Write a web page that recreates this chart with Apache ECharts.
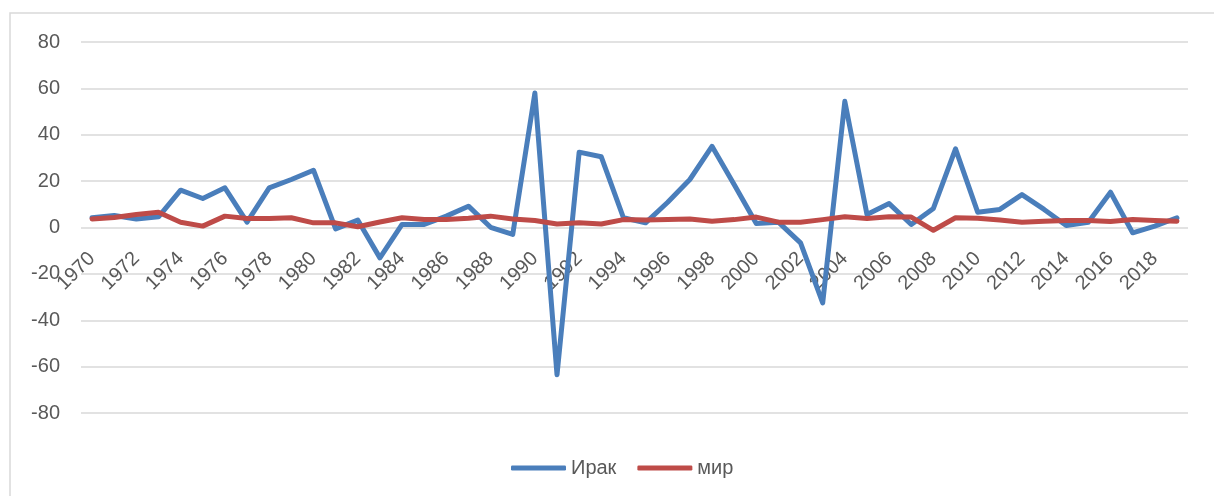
<!DOCTYPE html>
<html>
<head>
<meta charset="utf-8">
<script src="https://cdn.jsdelivr.net/npm/echarts@6/dist/echarts.min.js"></script>
<style>
  html, body { margin: 0; padding: 0; background: #fff; }
  #chart { width: 1214px; height: 496px; }
</style>
</head>
<body>
<div id="chart"></div>
<script>
const years = [];
for (let y = 1970; y <= 2019; y++) years.push(String(y));

// Ирак
const iraq = [4.2, 5.2, 3.7, 4.6, 16.1, 12.5, 17.1, 2.3, 17.1, 20.7,
  24.7, -0.6, 3.2, -13.1, 1.3, 1.3, 4.9, 9.2, 0.1, -3.0,
  58.0, -63.5, 32.5, 30.5, 4.2, 2.0, 10.9, 20.7, 35.0, 18.5,
  1.7, 2.3, -6.6, -32.5, 54.4, 5.6, 10.3, 1.3, 8.2, 33.9,
  6.6, 7.8, 14.2, 7.8, 0.9, 2.3, 15.2, -2.3, 0.6, 4.2];

// мир
const world = [3.7, 4.3, 5.6, 6.6, 2.3, 0.6, 4.9, 3.9, 3.9, 4.2,
  2.0, 2.0, 0.3, 2.4, 4.2, 3.4, 3.4, 4.0, 4.9, 3.7,
  3.0, 1.5, 2.0, 1.5, 3.4, 3.2, 3.4, 3.7, 2.7, 3.4,
  4.5, 2.3, 2.3, 3.4, 4.6, 3.9, 4.6, 4.5, -1.2, 4.2,
  4.0, 3.2, 2.3, 2.7, 3.0, 3.0, 2.6, 3.4, 3.0, 2.7];

const font = '"Liberation Sans", Arial, sans-serif';

const chart = echarts.init(document.getElementById("chart"));
chart.setOption({
  animation: false,
  graphic: [
    {
      type: "rect",
      shape: { x: 10, y: 13, width: 1230, height: 520 },
      style: { fill: "none", stroke: "#d9d9d9", lineWidth: 1.5 },
      silent: true
    }
  ],
  grid: { left: 81, right: 26, top: 42, bottom: 83 },
  legend: {
    top: 453,
    left: 506,
    itemWidth: 55,
    itemHeight: 5,
    itemGap: 21,
    icon: "roundRect",
    textStyle: { color: "#595959", fontSize: 20, fontFamily: font },
    data: ["Ирак", "мир"]
  },
  xAxis: {
    type: "category",
    data: years,
    boundaryGap: true,
    // labels sit on the zero line, like the source chart
    offset: -185.5,
    axisLine: { show: false, onZero: false },
    axisTick: { show: false },
    axisLabel: {
      interval: 1,
      rotate: 45,
      margin: 28,
      color: "#595959",
      fontSize: 20,
      fontFamily: font
    }
  },
  yAxis: {
    type: "value",
    min: -80,
    max: 80,
    interval: 20,
    axisLine: { show: false },
    axisTick: { show: false },
    axisLabel: { color: "#595959", fontSize: 20, fontFamily: font, margin: 21 },
    splitLine: { lineStyle: { color: "#d9d9d9", width: 1.5 } }
  },
  series: [
    {
      name: "Ирак",
      type: "line",
      data: iraq,
      symbol: "none",
      color: "#4a7ebb",
      lineStyle: { width: 5, cap: "round", join: "round" }
    },
    {
      name: "мир",
      type: "line",
      data: world,
      symbol: "none",
      color: "#be4b48",
      lineStyle: { width: 5, cap: "round", join: "round" }
    }
  ]
});
</script>
</body>
</html>
